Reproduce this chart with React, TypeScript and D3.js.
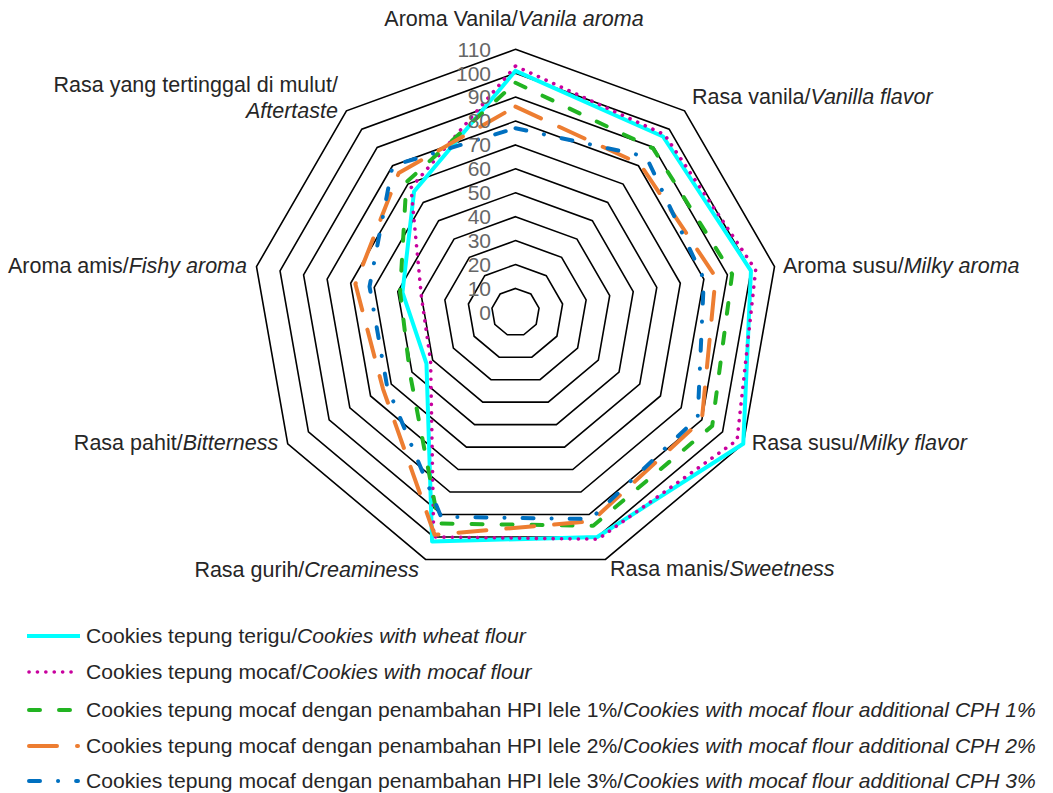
import React from "react";
import * as d3 from "d3";

// ---- data ----
const categoriesId = [
  "Aroma Vanila/",
  "Rasa vanila/",
  "Aroma susu/",
  "Rasa susu/",
  "Rasa manis/",
  "Rasa gurih/",
  "Rasa pahit/",
  "Aroma amis/",
  "Rasa yang tertinggal di mulut/",
];
const categoriesEn = [
  "Vanila aroma",
  "Vanilla flavor",
  "Milky aroma",
  "Milky flavor",
  "Sweetness",
  "Creaminess",
  "Bitterness",
  "Fishy aroma",
  "Aftertaste",
];
const ticks = [0, 10, 20, 30, 40, 50, 60, 70, 80, 90, 100, 110];

const wheat = [101, 96, 100, 110, 100, 102, 43, 48, 66];
const mocaf = [103, 97, 102, 107, 101, 100, 41, 40, 68];
const hpi1 = [96, 89.5, 92, 95, 95, 94, 51, 49, 71];
const hpi2 = [86, 81, 85, 90, 93, 99, 64, 68, 76];
const hpi3 = [77, 85, 80, 88, 92, 91, 62, 62, 80];

const seriesNamesId = [
  "Cookies tepung terigu/",
  "Cookies tepung mocaf/",
  "Cookies tepung mocaf dengan penambahan HPI lele 1%/",
  "Cookies tepung mocaf dengan penambahan HPI lele 2%/",
  "Cookies tepung mocaf dengan penambahan HPI lele 3%/",
];
const seriesNamesEn = [
  "Cookies with wheat flour",
  "Cookies with mocaf flour",
  "Cookies with mocaf flour additional CPH 1%",
  "Cookies with mocaf flour additional CPH 2%",
  "Cookies with mocaf flour additional CPH 3%",
];

// ---- styles ----
const seriesStyles = [
  { color: "#00FFFF", width: 4, dash: "none" },
  { color: "#C8009E", width: 3.6, dash: "0.1 8.3" },
  { color: "#22B422", width: 4, dash: "11 19" },
  { color: "#ED7D31", width: 4, dash: "28 20" },
  { color: "#0070C0", width: 4, dash: "11 18 0.1 18" },
];

const W = 1053;
const H = 793;
const cx = 515.5;
const cy = 312.3;
const R = 263;
const FONT = "'Liberation Sans', Arial, sans-serif";
const FS = 21.5;
const LFS = 21.1;

export default function App() {
  const data = [wheat, mocaf, hpi1, hpi2, hpi3];
  const n = categoriesId.length;
  const r = d3.scaleLinear().domain([0, 110]).range([0, R]);
  const angle = (i: number) => (i * 2 * Math.PI) / n;

  const line = d3
    .lineRadial<number>()
    .angle((_, i) => angle(i))
    .radius((d) => r(d))
    .curve(d3.curveLinearClosed);

  const rings = ticks.filter((t) => t > 0);

  const labelPos = (i: number) => {
    const a = angle(i);
    const x = cx + Math.sin(a) * R;
    const y = cy - Math.cos(a) * R;
    const deg = (i * 360) / n;
    if (deg === 0) return { x: x - 1.5, y: y - 31, anchor: "middle" };
    if (deg < 60) return { x: x + 7.5, y: y - 14, anchor: "start" };
    if (deg < 150) return { x: x + 8.5, y: y - 1, anchor: "start" };
    if (deg < 180) return { x: x + 4.5, y: y + 9, anchor: "start" };
    if (deg < 220) return { x: x - 6.5, y: y + 10, anchor: "end" };
    if (deg < 300) return { x: x - 9.5, y: y - 1.5, anchor: "end" };
    return { x: x - 8.5, y: y - 29, anchor: "end" };
  };

  const legendRows = [636, 672, 710, 746, 781];

  return (
    <svg
      width={W}
      height={H}
      style={{ position: "absolute", left: 0, top: 0, background: "#fff" }}
      fontFamily={FONT}
    >
      <g transform={`translate(${cx},${cy})`}>
        {rings.map((t) => (
          <path
            key={t}
            d={line(new Array(n).fill(t)) || ""}
            fill="none"
            stroke="#000"
            strokeWidth={1.6}
          />
        ))}
        {data.map((vals, si) => (
          <path
            key={si}
            d={line(vals) || ""}
            fill="none"
            stroke={seriesStyles[si].color}
            strokeWidth={seriesStyles[si].width}
            strokeDasharray={seriesStyles[si].dash}
            strokeLinecap={si === 0 ? "butt" : "round"}
            strokeLinejoin="round"
          />
        ))}
      </g>
      {ticks.map((t) => (
        <text
          key={t}
          x={cx - 24.5}
          y={cy - r(t)}
          dy="0.35em"
          textAnchor="end"
          fontSize={21}
          fill="#666"
        >
          {t}
        </text>
      ))}
      {categoriesId.map((c, i) => {
        const p = labelPos(i);
        if (i === n - 1) {
          return (
            <text key={i} fontSize={FS} fill="#262626" textAnchor="end">
              <tspan x={p.x} y={p.y + 3} dy="0.35em">
                {c}
              </tspan>
              <tspan x={p.x} y={p.y + 29} dy="0.35em" fontStyle="italic">
                {categoriesEn[i]}
              </tspan>
            </text>
          );
        }
        return (
          <text
            key={i}
            x={p.x}
            y={p.y}
            dy="0.35em"
            fontSize={FS}
            fill="#262626"
            textAnchor={p.anchor as any}
          >
            {c}
            <tspan fontStyle="italic">{categoriesEn[i]}</tspan>
          </text>
        );
      })}
      {seriesNamesId.map((s, i) => (
        <g key={i}>
          <path
            d={`M29,${legendRows[i]}H78`}
            fill="none"
            stroke={seriesStyles[i].color}
            strokeWidth={seriesStyles[i].width}
            strokeDasharray={seriesStyles[i].dash}
            strokeLinecap={i === 0 ? "square" : "round"}
          />
          <text
            x={86}
            y={legendRows[i]}
            dy="0.35em"
            fontSize={LFS}
            fill="#262626"
          >
            {s}
            <tspan fontStyle="italic">{seriesNamesEn[i]}</tspan>
          </text>
        </g>
      ))}
    </svg>
  );
}
